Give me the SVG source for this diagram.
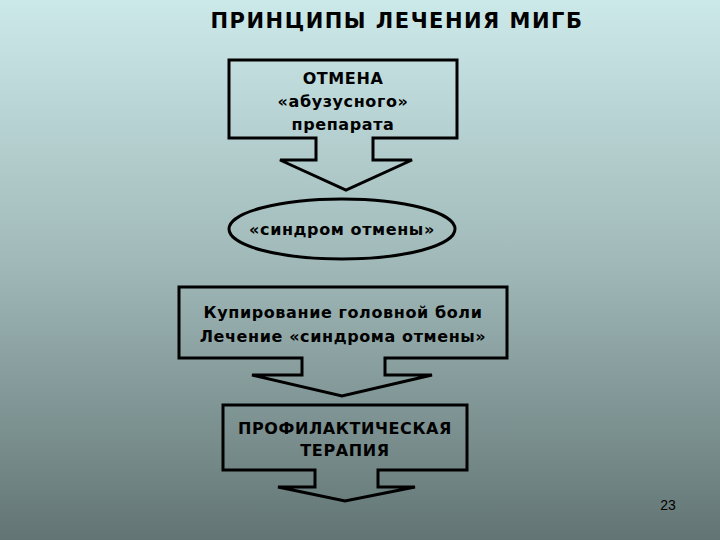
<svg xmlns="http://www.w3.org/2000/svg" width="720" height="540" viewBox="0 0 720 540">
<defs>
<linearGradient id="bg" x1="0" y1="0" x2="0" y2="1">
<stop offset="0" stop-color="#cce9ea"/>
<stop offset="0.5" stop-color="#9fb7b7"/>
<stop offset="1" stop-color="#627574"/>
</linearGradient>
</defs>
<style>
.s{fill:none;stroke:#000;stroke-width:3;stroke-linejoin:miter}
.t{font-family:"DejaVu Sans",Verdana,sans-serif;font-weight:bold;font-size:16px;fill:#000;text-anchor:middle;letter-spacing:0.6px}
</style>
<rect width="720" height="540" fill="url(#bg)"/>
<text x="397" y="28" class="t" style="font-size:21px;letter-spacing:1.5px">ПРИНЦИПЫ ЛЕЧЕНИЯ МИГБ</text>
<g id="n1">
<path class="s" d="M229,60 H457 V138 H373 V160 H412 L346,190 L280,160 H316 V138 H229 Z"/>
<text class="t" x="343" y="84">ОТМЕНА</text>
<text class="t" x="343" y="107">«абузусного»</text>
<text class="t" x="343" y="130">препарата</text>
</g>
<g id="n2">
<ellipse class="s" cx="342" cy="229" rx="113" ry="30"/>
<text class="t" x="342" y="235">«синдром отмены»</text>
</g>
<g id="n3">
<path class="s" d="M179,287 H507 V358 H385 V375 H432 L342,396 L252,375 H302 V358 H179 Z"/>
<text class="t" x="343" y="318">Купирование головной боли</text>
<text class="t" x="343" y="342">Лечение «синдрома отмены»</text>
</g>
<g id="n4">
<path class="s" d="M223,405 H467 V470 H378 V487 H415 L345,501 L278,487 H315 V470 H223 Z"/>
<text class="t" x="345" y="434">ПРОФИЛАКТИЧЕСКАЯ</text>
<text class="t" x="345" y="456">ТЕРАПИЯ</text>
</g>
<g id="connectors"></g>
<text x="668" y="510" style="font-family:'Liberation Sans',Arial,sans-serif;font-size:14px" text-anchor="middle">23</text>
</svg>
